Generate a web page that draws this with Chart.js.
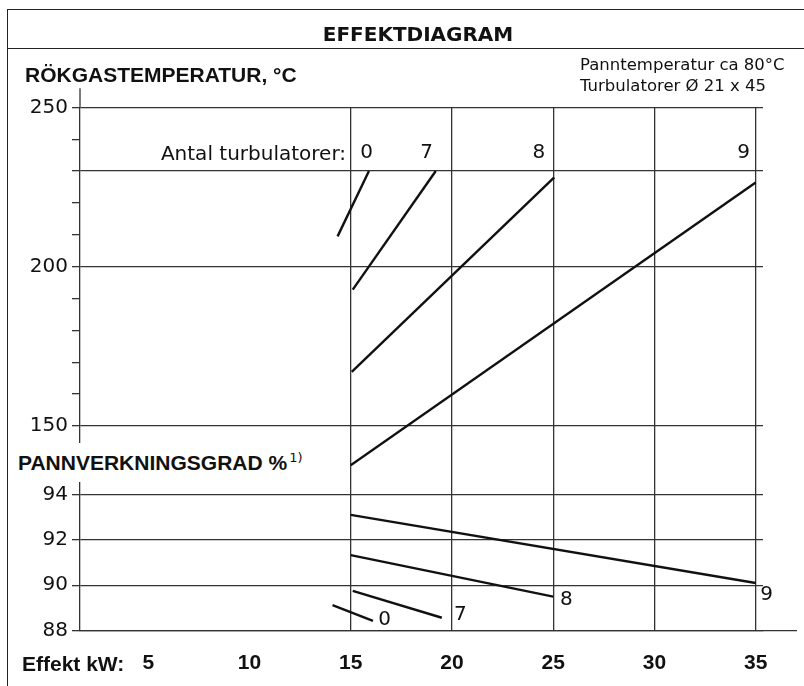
<!DOCTYPE html>
<html>
<head>
<meta charset="utf-8">
<script src="https://cdn.jsdelivr.net/npm/chart.js@4.4.1/dist/chart.umd.min.js"></script>
<style>
html, body { margin: 0; padding: 0; background: #fff; }
#wrap { position: relative; width: 804px; height: 686px; overflow: hidden; background: #fff; }
#c { position: absolute; left: 0; top: 0; }
.t { position: absolute; white-space: nowrap; color: #111; }
.frame { position: absolute; left: 7px; top: 9px; width: 820px; height: 700px; border-left: 1.5px solid #222; border-top: 1.5px solid #222; }
.sep { position: absolute; left: 7px; top: 48px; width: 820px; border-top: 1.5px solid #222; }
</style>
</head>
<body>
<div id="wrap">
  <canvas id="c" width="804" height="686"></canvas>
  <div class="frame"></div>
  <div class="sep"></div>
  <div class="t" style="left:0; width:836px; text-align:center; top:24px; font:bold 20px/1 'DejaVu Sans';">EFFEKTDIAGRAM</div>
  <div class="t" style="left:25px; top:64px; font:bold 21px/1 'Liberation Sans';">RÖKGASTEMPERATUR, °C</div>
  <div class="t" style="left:580px; top:57px; font:16.5px/1 'DejaVu Sans';">Panntemperatur ca 80°C</div>
  <div class="t" style="left:580px; top:78px; font:16.5px/1 'DejaVu Sans';">Turbulatorer Ø 21 x 45</div>
  <div class="t" style="right:458px; top:143px; font:20px/1 'DejaVu Sans';">Antal turbulatorer:</div>
  <div class="t" style="left:12px; top:443px; padding:9px 6px; background:#fff; font:bold 21px/1 'Liberation Sans';">PANNVERKNINGSGRAD %<span style="position:relative; top:-8px; margin-left:2px; font:13px/1 'DejaVu Sans';">1)</span></div>
  <div class="t" style="left:22px; top:653px; font:bold 21px/1 'Liberation Sans';">Effekt kW:</div>
</div>
<script>
// axes
const kwTicks = [5, 10, 15, 20, 25, 30, 35];
const kwGrid = [15, 20, 25, 30, 35];
const tempTicks = [250, 240, 230, 220, 210, 200, 190, 180, 170, 160, 150];
const tempLabels = [250, 200, 150];
const tempGrid = [250, 230, 200, 150];
const effTicks = [94, 92, 90, 88];

// one line per number of turbulators
const turbulators = ['0', '7', '8', '9'];
const tempKw = [[14.35, 15.9], [15.1, 19.2], [15.05, 25.05], [15, 35]];
const tempVals = [[209.5, 230], [192.8, 230], [167, 228], [137.7, 226.4]];
const effKw = [[14.1, 16.1], [15.1, 19.5], [15, 25], [15, 35]];
const effVals = [[89.13, 88.43], [89.75, 88.57], [91.33, 89.5], [93.1, 90.1]];

// where the turbulator numbers are written (data coords)
const tempLabelKw = [16.1, 19.06, 24.6, 34.72];
const tempLabelY = 235.8;
const effLabelKw = [16.36, 20.1, 25.34, 35.22];
const effLabelY = [88.49, 88.69, 89.37, 89.59];

const INK = '#111';
const GRID = '#333';
const CLEAR = 'rgba(0,0,0,0)';

const datasets = [];
turbulators.forEach(function(n, i) {
    datasets.push({
        label: 'Rökgastemperatur ' + n,
        yAxisID: 'yT',
        data: tempKw[i].map(function(x, j) { return {x: x, y: tempVals[i][j]}; })
    });
});
turbulators.forEach(function(n, i) {
    datasets.push({
        label: 'Pannverkningsgrad ' + n,
        yAxisID: 'yE',
        data: effKw[i].map(function(x, j) { return {x: x, y: effVals[i][j]}; })
    });
});
datasets.forEach(function(d) {
    d.borderColor = INK;
    d.borderWidth = 2.4;
    d.pointRadius = 0;
    d.fill = false;
    d.tension = 0;
});

// axis stubs, baseline tail and the turbulator numbers
const decor = {
    id: 'decor',
    afterDraw: function(chart) {
        const ctx = chart.ctx, a = chart.chartArea, s = chart.scales;
        ctx.save();
        ctx.strokeStyle = GRID;
        ctx.lineWidth = 1.3;
        ctx.beginPath();
        ctx.moveTo(a.left, a.top - 19);
        ctx.lineTo(a.left, a.top);
        ctx.moveTo(a.right, a.bottom);
        ctx.lineTo(797, a.bottom);
        ctx.stroke();

        ctx.fillStyle = INK;
        ctx.font = '20px "DejaVu Sans"';
        ctx.textBaseline = 'middle';
        ctx.textAlign = 'right';
        turbulators.forEach(function(n, i) {
            ctx.fillText(n, s.x.getPixelForValue(tempLabelKw[i]), s.yT.getPixelForValue(tempLabelY));
        });
        ctx.textAlign = 'left';
        turbulators.forEach(function(n, i) {
            ctx.fillText(n, s.x.getPixelForValue(effLabelKw[i]), s.yE.getPixelForValue(effLabelY[i]));
        });
        ctx.restore();
    }
};

function setTicks(list) {
    return function(scale) {
        scale.ticks = list.map(function(v) { return {value: v}; });
    };
}

Chart.defaults.font.family = 'DejaVu Sans';
Chart.defaults.color = INK;

const config = {
    type: 'line',
    data: { datasets: datasets },
    options: {
        responsive: false,
        animation: false,
        devicePixelRatio: 1,
        layout: { padding: { left: 0, top: 107.3, right: 41, bottom: 0 } },
        plugins: {
            legend: { display: false },
            tooltip: { enabled: false }
        },
        scales: {
            x: {
                type: 'linear',
                position: 'bottom',
                min: 1.63,
                max: 35.36,
                afterBuildTicks: setTicks(kwTicks),
                afterFit: function(scale) { scale.height = 55.3; },
                grid: {
                    drawTicks: false,
                    lineWidth: 1.3,
                    color: function(c) { return c.tick && kwGrid.includes(c.tick.value) ? GRID : CLEAR; }
                },
                border: { color: GRID, width: 1.3 },
                ticks: {
                    autoSkip: false,
                    maxRotation: 0,
                    padding: 20,
                    color: INK,
                    font: { family: 'Liberation Sans', size: 21, weight: 'bold' }
                }
            },
            yT: {
                type: 'linear',
                position: 'left',
                stack: 'v',
                stackWeight: 358.7,
                weight: 1,
                min: 137.45,
                max: 250,
                afterBuildTicks: setTicks(tempTicks),
                afterFit: function(scale) { scale.width = 80; },
                grid: {
                    tickLength: 8,
                    lineWidth: 1.3,
                    tickColor: GRID,
                    color: function(c) { return c.tick && tempGrid.includes(c.tick.value) ? GRID : CLEAR; }
                },
                border: { color: GRID, width: 1.3 },
                ticks: {
                    autoSkip: false,
                    padding: 4,
                    color: INK,
                    font: { size: 20 },
                    callback: function(v) { return tempLabels.includes(v) ? String(v) : ''; }
                }
            },
            yE: {
                type: 'linear',
                position: 'left',
                stack: 'v',
                stackWeight: 164.7,
                weight: 0,
                min: 88,
                max: 95.25,
                afterBuildTicks: setTicks(effTicks),
                afterFit: function(scale) { scale.width = 80; },
                grid: { tickLength: 8, lineWidth: 1.3, color: GRID, tickColor: GRID },
                border: { color: GRID, width: 1.3 },
                ticks: {
                    autoSkip: false,
                    padding: 4,
                    color: INK,
                    font: { size: 20 }
                }
            }
        }
    },
    plugins: [decor]
};

window.onload = function() {
    const ctx = document.getElementById('c').getContext('2d');
    window.effektChart = new Chart(ctx, config);
};
</script>
</body>
</html>
